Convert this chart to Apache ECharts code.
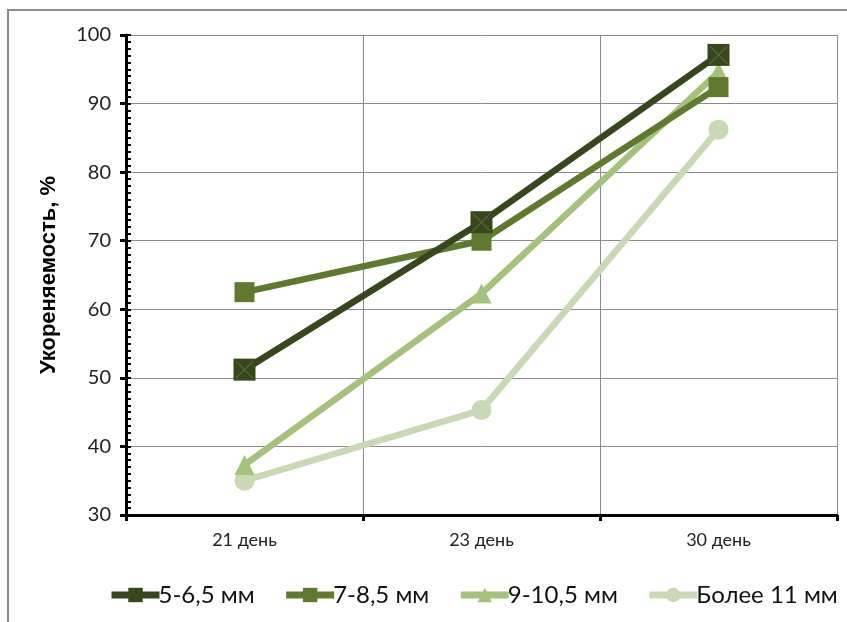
<!DOCTYPE html>
<html><head><meta charset="utf-8">
<script src="https://cdn.jsdelivr.net/npm/echarts@6/dist/echarts.min.js"></script>
<style>html,body{margin:0;padding:0;background:#fff}#c{width:847px;height:622px}</style>
</head><body><div id="c"></div>
<script>
const categories = ['21 день', '23 день', '30 день'];
const seriesNames = ['5-6,5 мм', '7-8,5 мм', '9-10,5 мм', 'Более 11 мм'];
const s1 = [51.2, 72.7, 97.1];
const s2 = [62.5, 70.0, 92.4];
const s3 = [37.3, 62.3, 94.6];
const s4 = [35.0, 45.3, 86.2];
const colors = ['#37461b', '#5f7a2f', '#a5c27c', '#c8d9b3'];
const yTicks = [30, 40, 50, 60, 70, 80, 90, 100];

const chart = echarts.init(document.getElementById('c'));
const labelFont = 'Lato, "Open Sans", sans-serif';
function mk(name, data, color, symbol, size, z) {
  return {
    name, type: 'line', data, symbol, symbolSize: size, z,
    lineStyle: { color, width: 6.5 },
    itemStyle: { color },
    emphasis: { disabled: true }, animation: false
  };
}
chart.setOption({
  animation: false,
  graphic: [{
    type: 'rect', shape: { x: 8, y: 10, width: 860, height: 640 },
    style: { fill: 'none', stroke: '#8c8c8c', lineWidth: 2 }, silent: true
  }],
  grid: { left: 126, right: 10, top: 35, bottom: 107 },
  xAxis: {
    type: 'category', data: categories, boundaryGap: true,
    axisLine: { lineStyle: { color: '#000', width: 3 } },
    axisTick: { show: true, length: 6, lineStyle: { color: '#000', width: 3 } },
    axisLabel: { color: '#222', fontSize: 18, fontFamily: labelFont, margin: 16 },
    splitLine: { show: true, lineStyle: { color: '#8a8a8a', width: 1 } }
  },
  yAxis: [{
    type: 'value', min: 30, max: 100, interval: 10,
    name: 'Укореняемость, %', nameLocation: 'middle', nameGap: 66,
    nameTextStyle: { fontSize: 22, fontWeight: 'bold', color: '#000', fontFamily: '"Liberation Sans", Arial, sans-serif' },
    axisLine: { show: true, lineStyle: { color: '#000', width: 3 } },
    axisTick: { show: true, inside: false, length: 6, lineStyle: { color: '#000', width: 3 } },
    axisLabel: { color: '#222', fontSize: 20, fontFamily: labelFont, margin: 15,
      formatter: v => yTicks.includes(v) ? String(v) : '' },
    splitLine: { show: true, lineStyle: { color: '#8a8a8a', width: 1 } }
  }, {
    type: 'value', min: 30, max: 100, interval: 1, position: 'left',
    axisLine: { show: false },
    axisTick: { show: true, inside: true, length: 5, lineStyle: { color: '#000', width: 2 } },
    axisLabel: { show: false }, splitLine: { show: false }
  }],
  legend: {
    bottom: 10, left: 103, itemWidth: 48, itemHeight: 18, itemGap: 28,
    lineStyle: { width: 7 },
    textStyle: { fontSize: 24, color: '#111', fontFamily: labelFont, padding: [0, 0, 0, -6] },
    data: seriesNames
  },
  series: [
    mk(seriesNames[0], s1, colors[0], 'rect', 22, 5),
    mk(seriesNames[1], s2, colors[1], 'rect', 20, 4),
    mk(seriesNames[2], s3, colors[2], 'triangle', 20, 3),
    mk(seriesNames[3], s4, colors[3], 'circle', 20, 2),
    {
      name: 'x-overlay', type: 'line', data: s1, z: 6, silent: true,
      symbol: 'path://M0,0 L1,0 L10,9 L19,0 L20,0 L20,1 L11,10 L20,19 L20,20 L19,20 L10,11 L1,20 L0,20 L0,19 L9,10 L0,1 Z',
      symbolSize: 18, lineStyle: { width: 0, opacity: 0 },
      itemStyle: { color: '#56683a' }, legendHoverLink: false, animation: false
    }
  ]
});
</script></body></html>
